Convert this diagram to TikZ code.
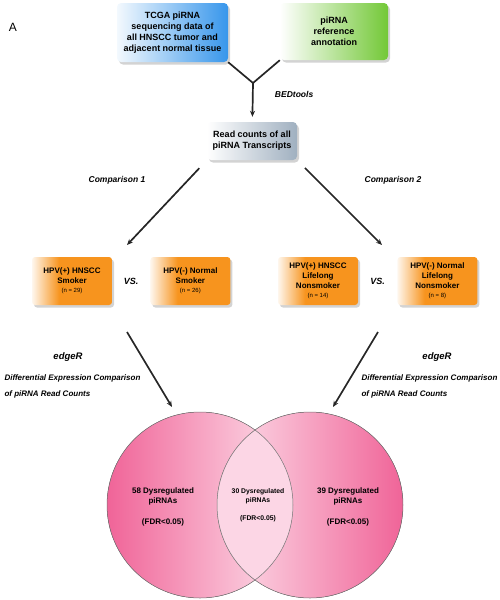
\documentclass[tikz,border=0pt]{standalone}
\usepackage{fontspec}
\setmainfont{Liberation Sans}
\usepackage{xcolor}
\definecolor{tcgablue}{RGB}{55,150,235}
\definecolor{annogreen}{RGB}{115,200,55}
\definecolor{readgray}{RGB}{160,176,192}
\definecolor{hpvorange}{RGB}{247,148,30}
\definecolor{venndark}{RGB}{240,100,152}
\definecolor{vennlight}{RGB}{253,226,236}
\definecolor{vennmid}{RGB}{252,214,229}
\usepackage{tikz}
\usetikzlibrary{arrows.meta,positioning,shadows,calc}
\pgfdeclarehorizontalshading{orangefade}{100bp}{color(0bp)=(hpvorange!8); color(25bp)=(hpvorange!8); color(42bp)=(hpvorange); color(100bp)=(hpvorange)}
\newcommand{\ncount}[1]{{\fontsize{6}{7}\selectfont\mdseries(n = #1)}}
\tikzset{
  boxshadow/.style={drop shadow={shadow xshift=2pt,shadow yshift=-2.5pt,opacity=0.35}},
  srcbox/.style={rounded corners=4pt,boxshadow,align=center,inner sep=2pt,%
    font=\bfseries\fontsize{9}{11}\selectfont},
  readbox/.style={srcbox,left color=white,right color=readgray,%
    minimum width=90pt,minimum height=38pt},
  groupbox/.style={rounded corners=3pt,boxshadow,shading=orangefade,align=center,%
    minimum width=80pt,minimum height=48pt,inner sep=1pt,%
    font=\bfseries\fontsize{8}{9.6}\selectfont},
  lbl/.style={font=\bfseries\itshape\fontsize{8.5}{10}\selectfont},
  vslbl/.style={font=\bfseries\itshape\fontsize{9}{10}\selectfont},
  melbl/.style={font=\bfseries\itshape\fontsize{8}{16}\selectfont,align=left,anchor=west},
  link/.style={line width=1.7pt,draw=black!85},
  flow/.style={link,-{Stealth[length=6pt,width=5pt]}},
  vennline/.style={draw=black!55,line width=0.5pt},
  venntext/.style={font=\bfseries\fontsize{8}{10}\selectfont,align=center},
}

\begin{document}
\begin{tikzpicture}[x=1pt,y=-1pt]
\useasboundingbox (0,0) rectangle (500,600);
\node[font=\fontsize{12}{12}\selectfont] (panel) at (13,27) {A};
% inputs
\node[srcbox,left color=tcgablue!6,right color=tcgablue,%
  minimum width=111pt,minimum height=59pt] (tcga) at (172.5,32.5)
  {TCGA piRNA\\sequencing data of\\all HNSCC tumor and\\adjacent normal tissue};
\node[srcbox,left color=white,right color=annogreen,%
  minimum width=108pt,minimum height=57pt] (anno) at (334,31.5)
  {piRNA\\reference\\annotation};
\coordinate (merge) at (253,83);
\draw[link] (tcga.south east) -- (merge);
\draw[link] (anno.south west) -- (merge);
\node[readbox] (reads) at (252,141) {Read counts of all\\piRNA Transcripts};
\draw[flow,shorten >=5pt] (merge) -- node[lbl,pos=0.3,right=18pt]{BEDtools} (reads);
% two comparisons
\node[groupbox] (pos1) at (72,281) {HPV(+) HNSCC\\Smoker\\\ncount{29}};
\node[groupbox,right=38pt of pos1] (neg1) {HPV(-) Normal\\Smoker\\\ncount{26}};
\node[groupbox] (pos2) at (318,281) {HPV(+) HNSCC\\Lifelong\\Nonsmoker\\\ncount{14}};
\node[groupbox,right=39pt of pos2] (neg2) {HPV(-) Normal\\Lifelong\\Nonsmoker\\\ncount{8}};
\node[vslbl] (vs1) at ($(pos1)!0.5!(neg1)$) {VS.};
\node[vslbl] (vs2) at ($(pos2)!0.5!(neg2)$) {VS.};
\coordinate (cmp1) at (127,245);
\coordinate (cmp2) at (382,245);
\draw[flow,shorten <=11pt] (reads.south west) -- (cmp1);
\draw[flow,shorten <=11pt] (reads.south east) -- (cmp2);
\node[lbl] (cmplbl1) at (117,180) {Comparison 1};
\node[lbl] (cmplbl2) at (393,180) {Comparison 2};
% edgeR
\coordinate (de1a) at (127,332);
\coordinate (de1b) at (172,407);
\coordinate (de2a) at (378,332);
\coordinate (de2b) at (333,407);
\draw[flow] (de1a) -- (de1b);
\draw[flow] (de2a) -- (de2b);
\node[lbl,font=\bfseries\itshape\fontsize{9.5}{10}\selectfont] (edge1) at (68,357) {edgeR};
\node[lbl,font=\bfseries\itshape\fontsize{9.5}{10}\selectfont] (edge2) at (437,357) {edgeR};
\node[melbl] (diff1) at (1,386) {Differential Expression Comparison\\of piRNA Read Counts};
\node[melbl] (diff2) at (358,386) {Differential Expression Comparison\\of piRNA Read Counts};
% venn
\coordinate (setL) at (200,505);
\coordinate (setR) at (310,505);
\fill[left color=venndark,right color=vennlight] (setL) circle[radius=93pt];
\fill[left color=vennlight,right color=venndark] (setR) circle[radius=93pt];
\begin{scope}
  \clip (setL) circle[radius=93pt];
  \fill[vennmid] (setR) circle[radius=93pt];
\end{scope}
\draw[vennline] (setL) circle[radius=93pt] (setR) circle[radius=93pt];
\node[venntext] (only1) at (163,507) {58 Dysregulated\\piRNAs\\[11pt](FDR<0.05)};
\node[venntext,font=\bfseries\fontsize{6.8}{9}\selectfont] (both) at (258,505)
  {30 Dysregulated\\piRNAs\\[9pt](FDR<0.05)};
\node[venntext] (only2) at (348,507) {39 Dysregulated\\piRNAs\\[11pt](FDR<0.05)};
\end{tikzpicture}
\end{document}
